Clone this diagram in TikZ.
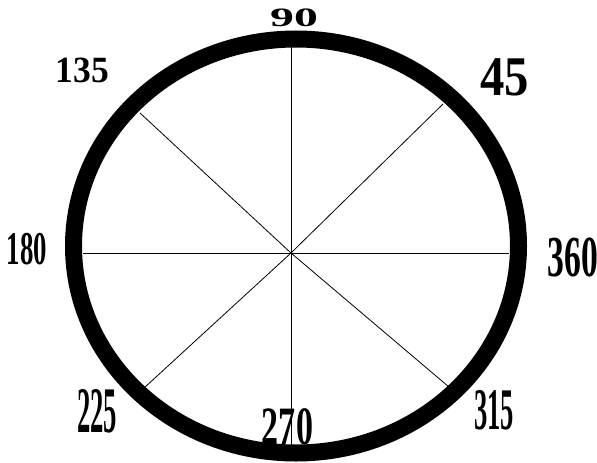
\documentclass[tikz,border=0pt]{standalone}
\usepackage{fontspec}
\setmainfont{Liberation Serif}
\usepackage{tikz}

\newcommand{\digsize}[1]{\fontsize{#1}{#1}\selectfont\bfseries}

\begin{document}
\begin{tikzpicture}[x=1pt,y=-1pt,
    ring/.style={line width=17pt},
    spoke/.style={line width=0.8pt},
    lbl/.style={inner sep=0pt,anchor=center}]
  \useasboundingbox (0,0) rectangle (597,463);
  % ring and spokes
  \draw[ring] (296,246) ellipse [x radius=222.5, y radius=207];
  \coordinate (c) at (291,253);
  \coordinate (e0) at (509,253);
  \coordinate (e45) at (443,104);
  \coordinate (e90) at (291,47);
  \coordinate (e135) at (140,113);
  \coordinate (e180) at (83,253);
  \coordinate (e225) at (144,388);
  \coordinate (e270) at (291,445);
  \coordinate (e315) at (449,387);
  \foreach \a in {0,45,90,135,180,225,270,315}
    \draw[spoke] (c) -- (e\a);
  % angle labels
  \node[lbl,xscale=1.8,font=\digsize{26.5}] (l90) at (294,18) {90};
  \node[lbl,xscale=0.96,font=\digsize{37}] (l135) at (82.5,70.5) {135};
  \node[lbl,xscale=0.87,font=\digsize{56}] (l45) at (504.5,77.5) {45};
  \node[lbl,xscale=0.57,font=\digsize{47}] (l180) at (27,249) {180};
  \node[lbl,xscale=0.58,font=\digsize{58}] (l360) at (573,257) {360};
  \node[lbl,xscale=0.41,font=\digsize{65}] (l225) at (97,411) {225};
  \node[lbl,xscale=0.63,font=\digsize{54}] (l270) at (287.5,426.5) {270};
  \node[lbl,xscale=0.45,font=\digsize{59}] (l315) at (494,410) {315};
\end{tikzpicture}
\end{document}
